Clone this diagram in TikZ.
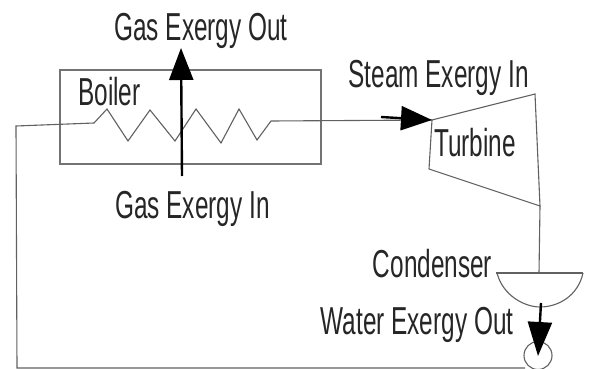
\documentclass[tikz,border=0pt]{standalone}
\usepackage{fontspec}
\setmainfont{Liberation Sans}[FakeStretch=0.625]
\usetikzlibrary{arrows.meta}
\tikzset{
  lbl/.style={inner sep=0pt,anchor=base,text=black!85,font=\fontsize{39}{39}\selectfont},
  thin line/.style={draw=black!62,line width=1.1pt,line join=miter},
  flow/.style={draw=black,line width=2.4pt,-{Triangle[length=32pt,width=24pt]}}
}
\begin{document}
\begin{tikzpicture}[x=1pt,y=-1pt]
\useasboundingbox (0,0) rectangle (589,369);
\fill[white] (0,0) rectangle (589,369);
\node[thin line,draw=black!55,rectangle,minimum width=261pt,minimum height=94pt,inner sep=0pt] (boiler) at (190.5,117) {};
\node[lbl] (boilerlabel) at (109.5,106) {Boiler};
\coordinate (coilin) at (94,123);
\coordinate (coilout) at (271,121);
\coordinate (corner) at (16,126);
\coordinate (cornerb) at (17,368);
\coordinate (pumpin) at (525,368);
\coordinate (tin) at (432,120);
\coordinate (ttr) at (535,94);
\coordinate (tbr) at (540,206);
\coordinate (tbl) at (429,169);
\coordinate (cond) at (539,273);
\coordinate (steamstart) at (381,117);
\coordinate (gasa) at (182,176);
\coordinate (gasb) at (181,48);
\coordinate (wa) at (541,303);
\coordinate (wb) at (538,356);
\node[thin line,circle,minimum size=28pt,inner sep=0pt] (pump) at (538,355.5) {};
\draw[thin line] (pumpin) -- (cornerb) -- (corner) -- (coilin) -- (107,109) -- (128,141) -- (150,110) -- (175,141) -- (196,109) -- (221,143) -- (239,109) -- (257,140) -- (coilout) -- (tin);
\draw[thin line] (tin) -- (ttr) -- (tbr) -- (tbl) -- cycle;
\draw[thin line] (tbr) -- (cond);
\draw[thin line] (496,273) -- (583,273);
\draw[thin line] (497,273) .. controls (503,296) and (525,307) .. (540,307) .. controls (558,307) and (578,296) .. (583,273);
\draw[flow] (gasa) -- (gasb);
\draw[flow,-{Triangle[length=31pt,width=24pt]}] (steamstart) -- (tin);
\draw[flow,-{Triangle[length=34pt,width=24pt]}] (wa) -- (wb);
\node[lbl] (gasout) at (201,41) {Gas Exergy Out};
\node[lbl] (gasin) at (192.5,218) {Gas Exergy In};
\node[lbl] (steam) at (438.5,88) {Steam Exergy In};
\node[lbl] (turbine) at (475,156) {Turbine};
\node[lbl] (condenser) at (432.5,277) {Condenser};
\node[lbl] (water) at (417,334) {Water Exergy Out};
\end{tikzpicture}
\end{document}
